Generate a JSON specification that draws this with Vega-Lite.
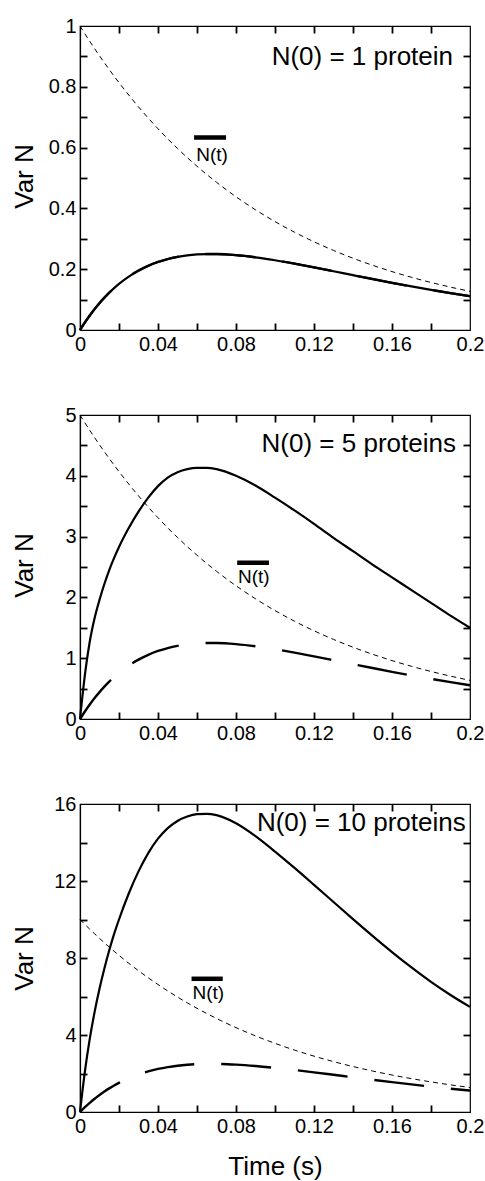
{
"$schema": "https://vega.github.io/schema/vega-lite/v6.json",
"padding": {"left": 10, "top": 15, "right": 1, "bottom": 2},
"background": "white",
"config": {
  "font": "Liberation Sans",
  "view": {"stroke": "black", "strokeWidth": 1.2},
  "axis": {"zindex": 1, "domainColor": "black", "domainWidth": 1.2, "tickColor": "black", "tickWidth": 1.8, "tickSize": 7, "labelColor": "black", "labelFont": "Liberation Sans", "labelFontSize": 20, "titleFont": "Liberation Sans", "titleFontSize": 26, "titleFontWeight": "normal", "titleColor": "black", "grid": false, "labelFlush": false, "labelOverlap": false, "labelPadding": 4},
  "text": {"font": "Liberation Sans", "color": "black"},
  "line": {"strokeCap": "butt"}
},
"datasets": {
  "p1": [
    {"t":0,"mean":1,"var":0},{"t":0.0025,"mean":0.97456,"var":0.02479},{"t":0.005,"mean":0.94976,"var":0.04772},{"t":0.0075,"mean":0.92559,"var":0.06887},{"t":0.01,"mean":0.90204,"var":0.08836},{"t":0.0125,"mean":0.87909,"var":0.10629},{"t":0.015,"mean":0.85672,"var":0.12275},{"t":0.0175,"mean":0.83493,"var":0.13782},{"t":0.02,"mean":0.81368,"var":0.15161},{"t":0.025,"mean":0.77281,"var":0.17557},{"t":0.03,"mean":0.73397,"var":0.19526},{"t":0.035,"mean":0.6971,"var":0.21115},{"t":0.04,"mean":0.66209,"var":0.22373},{"t":0.045,"mean":0.6288,"var":0.23341},{"t":0.05,"mean":0.59724,"var":0.24054},{"t":0.055,"mean":0.5672,"var":0.24548},{"t":0.06,"mean":0.53873,"var":0.2485},{"t":0.065,"mean":0.51166,"var":0.24986},{"t":0.07,"mean":0.48596,"var":0.2498},{"t":0.08,"mean":0.43835,"var":0.2462},{"t":0.09,"mean":0.39541,"var":0.23906},{"t":0.1,"mean":0.35667,"var":0.22946},{"t":0.11,"mean":0.32173,"var":0.21822},{"t":0.12,"mean":0.29021,"var":0.20599},{"t":0.13,"mean":0.26178,"var":0.19325},{"t":0.14,"mean":0.23614,"var":0.18038},{"t":0.15,"mean":0.21301,"var":0.16764},{"t":0.16,"mean":0.19214,"var":0.15522},{"t":0.17,"mean":0.17332,"var":0.14328},{"t":0.18,"mean":0.15634,"var":0.1319},{"t":0.19,"mean":0.14102,"var":0.12113},{"t":0.2,"mean":0.12721,"var":0.11103}
  ],
  "p2": [
    {"t":0,"mean":5,"binom":0,"var":0},{"t":0.0025,"mean":4.8728,"binom":0.124,"var":0.72},{"t":0.005,"mean":4.7488,"binom":0.2386,"var":1.27},{"t":0.0075,"mean":4.628,"binom":0.3444,"var":1.66},{"t":0.01,"mean":4.5102,"binom":0.4418,"var":1.96},{"t":0.0125,"mean":4.3955,"binom":0.5315,"var":2.22},{"t":0.015,"mean":4.2836,"binom":0.6138,"var":2.45},{"t":0.0175,"mean":4.1747,"binom":0.6891,"var":2.65},{"t":0.02,"mean":4.0684,"binom":0.7581,"var":2.83},{"t":0.025,"mean":3.8641,"binom":0.8779,"var":3.14},{"t":0.03,"mean":3.6699,"binom":0.9763,"var":3.41},{"t":0.035,"mean":3.4855,"binom":1.0558,"var":3.64},{"t":0.04,"mean":3.3105,"binom":1.1187,"var":3.83},{"t":0.045,"mean":3.144,"binom":1.1671,"var":3.97},{"t":0.05,"mean":2.9862,"binom":1.2027,"var":4.06},{"t":0.055,"mean":2.836,"binom":1.2274,"var":4.11},{"t":0.06,"mean":2.6937,"binom":1.2425,"var":4.13},{"t":0.065,"mean":2.5583,"binom":1.2493,"var":4.13},{"t":0.07,"mean":2.4298,"binom":1.249,"var":4.11},{"t":0.08,"mean":2.1918,"binom":1.231,"var":4.0},{"t":0.09,"mean":1.9771,"binom":1.1953,"var":3.84},{"t":0.1,"mean":1.7834,"binom":1.1473,"var":3.64},{"t":0.11,"mean":1.6087,"binom":1.0911,"var":3.43},{"t":0.12,"mean":1.4511,"binom":1.03,"var":3.21},{"t":0.13,"mean":1.3089,"binom":0.9663,"var":2.98},{"t":0.14,"mean":1.1807,"binom":0.9019,"var":2.76},{"t":0.15,"mean":1.0651,"binom":0.8382,"var":2.54},{"t":0.16,"mean":0.9607,"binom":0.7761,"var":2.33},{"t":0.17,"mean":0.8666,"binom":0.7164,"var":2.12},{"t":0.18,"mean":0.7817,"binom":0.6595,"var":1.91},{"t":0.19,"mean":0.7051,"binom":0.6057,"var":1.7},{"t":0.2,"mean":0.6361,"binom":0.5552,"var":1.5}
  ],
  "p3": [
    {"t":0,"mean":10,"binom":0,"var":0},{"t":0.0025,"mean":9.7456,"binom":0.248,"var":2.1},{"t":0.005,"mean":9.4976,"binom":0.4772,"var":3.8},{"t":0.0075,"mean":9.256,"binom":0.6888,"var":5.2},{"t":0.01,"mean":9.0204,"binom":0.8836,"var":6.4},{"t":0.0125,"mean":8.791,"binom":1.063,"var":7.45},{"t":0.015,"mean":8.5672,"binom":1.2276,"var":8.4},{"t":0.0175,"mean":8.3494,"binom":1.3782,"var":9.25},{"t":0.02,"mean":8.1368,"binom":1.5162,"var":10.0},{"t":0.025,"mean":7.7282,"binom":1.7558,"var":11.35},{"t":0.03,"mean":7.3398,"binom":1.9526,"var":12.5},{"t":0.035,"mean":6.971,"binom":2.1116,"var":13.45},{"t":0.04,"mean":6.621,"binom":2.2374,"var":14.2},{"t":0.045,"mean":6.288,"binom":2.3342,"var":14.75},{"t":0.05,"mean":5.9724,"binom":2.4054,"var":15.12},{"t":0.055,"mean":5.672,"binom":2.4548,"var":15.35},{"t":0.06,"mean":5.3874,"binom":2.485,"var":15.47},{"t":0.065,"mean":5.1166,"binom":2.4986,"var":15.49},{"t":0.07,"mean":4.8596,"binom":2.498,"var":15.42},{"t":0.08,"mean":4.3836,"binom":2.462,"var":15.0},{"t":0.09,"mean":3.9542,"binom":2.3906,"var":14.33},{"t":0.1,"mean":3.5668,"binom":2.2946,"var":13.53},{"t":0.11,"mean":3.2174,"binom":2.1822,"var":12.68},{"t":0.12,"mean":2.9022,"binom":2.06,"var":11.8},{"t":0.13,"mean":2.6178,"binom":1.9326,"var":10.91},{"t":0.14,"mean":2.3614,"binom":1.8038,"var":10.02},{"t":0.15,"mean":2.1302,"binom":1.6764,"var":9.15},{"t":0.16,"mean":1.9214,"binom":1.5522,"var":8.31},{"t":0.17,"mean":1.7332,"binom":1.4328,"var":7.51},{"t":0.18,"mean":1.5634,"binom":1.319,"var":6.76},{"t":0.19,"mean":1.4102,"binom":1.2114,"var":6.08},{"t":0.2,"mean":1.2722,"binom":1.1104,"var":5.46}
  ]
},
"vconcat": [
  {
    "width": 390, "height": 304,
    "resolve": {"axis": {"x": "independent", "y": "independent"}},
    "layer": [
      {"data": {"name": "p1"},
       "mark": {"type": "line", "stroke": "black", "strokeWidth": 1, "strokeDash": [5, 4], "interpolate": "monotone"},
       "encoding": {
         "x": {"field": "t", "type": "quantitative", "scale": {"domain": [0, 0.2], "nice": false}, "axis": {"orient": "top", "offset": -304, "labels": false, "domain": false, "title": null, "values": [0.02,0.04,0.06,0.08,0.1,0.12,0.14,0.16,0.18]}},
         "y": {"field": "mean", "type": "quantitative", "scale": {"domain": [0, 1], "nice": false}, "axis": {"orient": "right", "offset": -390, "labels": false, "domain": false, "title": null, "values": [0.1,0.2,0.3,0.4,0.5,0.6,0.7,0.8,0.9]}}
       }},
      {"data": {"name": "p1"},
       "mark": {"type": "line", "stroke": "black", "strokeWidth": 2.4, "strokeDash": [50, 27], "interpolate": "monotone"},
       "encoding": {
         "x": {"field": "t", "type": "quantitative", "scale": {"domain": [0, 0.2], "nice": false}, "axis": {"orient": "bottom", "offset": -304, "labels": false, "domain": false, "title": null, "values": [0.02,0.04,0.06,0.08,0.1,0.12,0.14,0.16,0.18]}},
         "y": {"field": "var", "type": "quantitative", "scale": {"domain": [0, 1], "nice": false}, "axis": {"orient": "left", "offset": -390, "labels": false, "domain": false, "title": null, "values": [0.1,0.2,0.3,0.4,0.5,0.6,0.7,0.8,0.9]}}
       }},
      {"data": {"name": "p1"},
       "mark": {"type": "line", "stroke": "black", "strokeWidth": 2.2, "interpolate": "monotone"},
       "encoding": {
         "x": {"field": "t", "type": "quantitative", "scale": {"domain": [0, 0.2], "nice": false}, "axis": {"orient": "bottom", "title": null, "format": "~g", "ticks": false, "tickSize": 0, "values": [0,0.04,0.08,0.12,0.16,0.2]}},
         "y": {"field": "var", "type": "quantitative", "scale": {"domain": [0, 1], "nice": false}, "axis": {"orient": "left", "title": "Var N", "titleX": -56, "titleY": 150, "titleBaseline": "middle", "format": "~g", "ticks": false, "tickSize": 0, "values": [0,0.2,0.4,0.6,0.8,1]}}
       }},
      {"data": {"values": [{"t": 0.1913, "v": 0.899, "label": "N(0) = 1 protein"}]},
       "mark": {"type": "text", "align": "right", "baseline": "middle", "fontSize": 26},
       "encoding": {
         "x": {"field": "t", "type": "quantitative", "scale": {"domain": [0, 0.2], "nice": false}, "axis": null},
         "y": {"field": "v", "type": "quantitative", "scale": {"domain": [0, 1], "nice": false}, "axis": null},
         "text": {"field": "label"}
       }},
      {"data": {"values": [{"t": 0.0677, "v": 0.576, "label": "N(t)"}]},
       "mark": {"type": "text", "align": "center", "baseline": "middle", "fontSize": 19},
       "encoding": {
         "x": {"field": "t", "type": "quantitative", "scale": {"domain": [0, 0.2], "nice": false}, "axis": null},
         "y": {"field": "v", "type": "quantitative", "scale": {"domain": [0, 1], "nice": false}, "axis": null},
         "text": {"field": "label"}
       }},
      {"data": {"values": [{"t1": 0.0585, "t2": 0.0749, "v": 0.633}]},
       "mark": {"type": "rule", "stroke": "black", "strokeWidth": 4.5, "strokeCap": "butt"},
       "encoding": {
         "x": {"field": "t1", "type": "quantitative", "scale": {"domain": [0, 0.2], "nice": false}, "axis": null},
         "x2": {"field": "t2"},
         "y": {"field": "v", "type": "quantitative", "scale": {"domain": [0, 1], "nice": false}, "axis": null}
       }}
    ]
  },
  {
    "width": 390, "height": 304,
    "resolve": {"axis": {"x": "independent", "y": "independent"}},
    "layer": [
      {"data": {"name": "p2"},
       "mark": {"type": "line", "stroke": "black", "strokeWidth": 1, "strokeDash": [5, 4], "interpolate": "monotone"},
       "encoding": {
         "x": {"field": "t", "type": "quantitative", "scale": {"domain": [0, 0.2], "nice": false}, "axis": {"orient": "top", "offset": -304, "labels": false, "domain": false, "title": null, "values": [0.02,0.04,0.06,0.08,0.1,0.12,0.14,0.16,0.18]}},
         "y": {"field": "mean", "type": "quantitative", "scale": {"domain": [0, 5], "nice": false}, "axis": {"orient": "right", "offset": -390, "labels": false, "domain": false, "title": null, "values": [0.5,1,1.5,2,2.5,3,3.5,4,4.5]}}
       }},
      {"data": {"name": "p2"},
       "mark": {"type": "line", "stroke": "black", "strokeWidth": 2.4, "strokeDash": [50, 27], "interpolate": "monotone"},
       "encoding": {
         "x": {"field": "t", "type": "quantitative", "scale": {"domain": [0, 0.2], "nice": false}, "axis": {"orient": "bottom", "offset": -304, "labels": false, "domain": false, "title": null, "values": [0.02,0.04,0.06,0.08,0.1,0.12,0.14,0.16,0.18]}},
         "y": {"field": "binom", "type": "quantitative", "scale": {"domain": [0, 5], "nice": false}, "axis": {"orient": "left", "offset": -390, "labels": false, "domain": false, "title": null, "values": [0.5,1,1.5,2,2.5,3,3.5,4,4.5]}}
       }},
      {"data": {"name": "p2"},
       "mark": {"type": "line", "stroke": "black", "strokeWidth": 2.2, "interpolate": "monotone"},
       "encoding": {
         "x": {"field": "t", "type": "quantitative", "scale": {"domain": [0, 0.2], "nice": false}, "axis": {"orient": "bottom", "title": null, "format": "~g", "ticks": false, "tickSize": 0, "values": [0,0.04,0.08,0.12,0.16,0.2]}},
         "y": {"field": "var", "type": "quantitative", "scale": {"domain": [0, 5], "nice": false}, "axis": {"orient": "left", "title": "Var N", "titleX": -56, "titleY": 150, "titleBaseline": "middle", "format": "~g", "ticks": false, "tickSize": 0, "values": [0,1,2,3,4,5]}}
       }},
      {"data": {"values": [{"t": 0.1928, "v": 4.52, "label": "N(0) = 5 proteins"}]},
       "mark": {"type": "text", "align": "right", "baseline": "middle", "fontSize": 26},
       "encoding": {
         "x": {"field": "t", "type": "quantitative", "scale": {"domain": [0, 0.2], "nice": false}, "axis": null},
         "y": {"field": "v", "type": "quantitative", "scale": {"domain": [0, 5], "nice": false}, "axis": null},
         "text": {"field": "label"}
       }},
      {"data": {"values": [{"t": 0.0891, "v": 2.33, "label": "N(t)"}]},
       "mark": {"type": "text", "align": "center", "baseline": "middle", "fontSize": 19},
       "encoding": {
         "x": {"field": "t", "type": "quantitative", "scale": {"domain": [0, 0.2], "nice": false}, "axis": null},
         "y": {"field": "v", "type": "quantitative", "scale": {"domain": [0, 5], "nice": false}, "axis": null},
         "text": {"field": "label"}
       }},
      {"data": {"values": [{"t1": 0.0806, "t2": 0.0969, "v": 2.57}]},
       "mark": {"type": "rule", "stroke": "black", "strokeWidth": 4.5, "strokeCap": "butt"},
       "encoding": {
         "x": {"field": "t1", "type": "quantitative", "scale": {"domain": [0, 0.2], "nice": false}, "axis": null},
         "x2": {"field": "t2"},
         "y": {"field": "v", "type": "quantitative", "scale": {"domain": [0, 5], "nice": false}, "axis": null}
       }}
    ]
  },
  {
    "width": 390, "height": 308,
    "resolve": {"axis": {"x": "independent", "y": "independent"}},
    "layer": [
      {"data": {"name": "p3"},
       "mark": {"type": "line", "stroke": "black", "strokeWidth": 1, "strokeDash": [5, 4], "interpolate": "monotone"},
       "encoding": {
         "x": {"field": "t", "type": "quantitative", "scale": {"domain": [0, 0.2], "nice": false}, "axis": {"orient": "top", "offset": -308, "labels": false, "domain": false, "title": null, "values": [0.02,0.04,0.06,0.08,0.1,0.12,0.14,0.16,0.18]}},
         "y": {"field": "mean", "type": "quantitative", "scale": {"domain": [0, 16], "nice": false}, "axis": {"orient": "right", "offset": -390, "labels": false, "domain": false, "title": null, "values": [2,4,6,8,10,12,14]}}
       }},
      {"data": {"name": "p3"},
       "mark": {"type": "line", "stroke": "black", "strokeWidth": 2.4, "strokeDash": [50, 27], "interpolate": "monotone"},
       "encoding": {
         "x": {"field": "t", "type": "quantitative", "scale": {"domain": [0, 0.2], "nice": false}, "axis": {"orient": "bottom", "offset": -308, "labels": false, "domain": false, "title": null, "values": [0.02,0.04,0.06,0.08,0.1,0.12,0.14,0.16,0.18]}},
         "y": {"field": "binom", "type": "quantitative", "scale": {"domain": [0, 16], "nice": false}, "axis": {"orient": "left", "offset": -390, "labels": false, "domain": false, "title": null, "values": [2,4,6,8,10,12,14]}}
       }},
      {"data": {"name": "p3"},
       "mark": {"type": "line", "stroke": "black", "strokeWidth": 2.2, "interpolate": "monotone"},
       "encoding": {
         "x": {"field": "t", "type": "quantitative", "scale": {"domain": [0, 0.2], "nice": false}, "axis": {"orient": "bottom", "title": "Time (s)", "titleX": 195, "titleY": 54, "titleBaseline": "middle", "format": "~g", "ticks": false, "tickSize": 0, "values": [0,0.04,0.08,0.12,0.16,0.2]}},
         "y": {"field": "var", "type": "quantitative", "scale": {"domain": [0, 16], "nice": false}, "axis": {"orient": "left", "title": "Var N", "titleX": -56, "titleY": 154, "titleBaseline": "middle", "format": "~g", "ticks": false, "tickSize": 0, "values": [0,4,8,12,16]}}
       }},
      {"data": {"values": [{"t": 0.1978, "v": 15.0, "label": "N(0) = 10 proteins"}]},
       "mark": {"type": "text", "align": "right", "baseline": "middle", "fontSize": 26},
       "encoding": {
         "x": {"field": "t", "type": "quantitative", "scale": {"domain": [0, 0.2], "nice": false}, "axis": null},
         "y": {"field": "v", "type": "quantitative", "scale": {"domain": [0, 16], "nice": false}, "axis": null},
         "text": {"field": "label"}
       }},
      {"data": {"values": [{"t": 0.0658, "v": 6.16, "label": "N(t)"}]},
       "mark": {"type": "text", "align": "center", "baseline": "middle", "fontSize": 19},
       "encoding": {
         "x": {"field": "t", "type": "quantitative", "scale": {"domain": [0, 0.2], "nice": false}, "axis": null},
         "y": {"field": "v", "type": "quantitative", "scale": {"domain": [0, 16], "nice": false}, "axis": null},
         "text": {"field": "label"}
       }},
      {"data": {"values": [{"t1": 0.0572, "t2": 0.0732, "v": 6.92}]},
       "mark": {"type": "rule", "stroke": "black", "strokeWidth": 4.5, "strokeCap": "butt"},
       "encoding": {
         "x": {"field": "t1", "type": "quantitative", "scale": {"domain": [0, 0.2], "nice": false}, "axis": null},
         "x2": {"field": "t2"},
         "y": {"field": "v", "type": "quantitative", "scale": {"domain": [0, 16], "nice": false}, "axis": null}
       }}
    ]
  }
],
"spacing": 85,
"bounds": "flush"
}
